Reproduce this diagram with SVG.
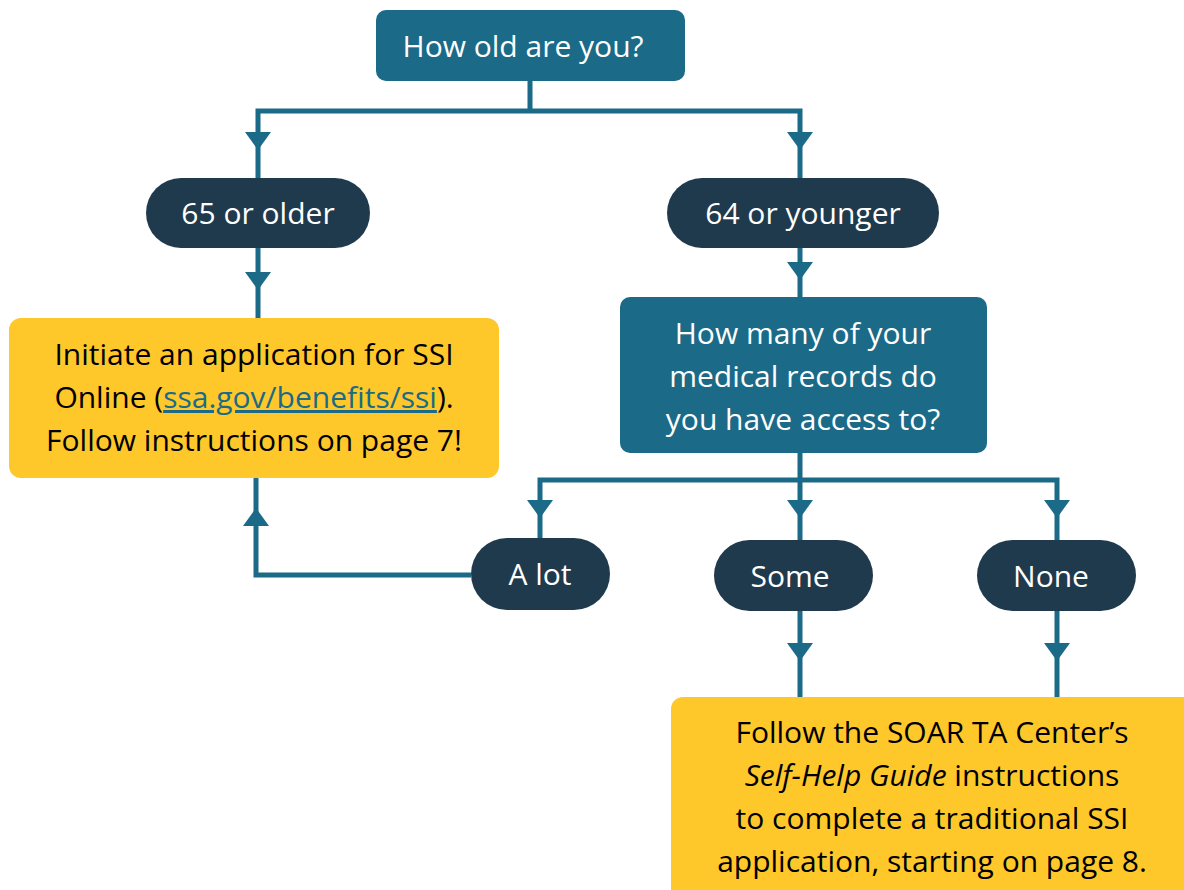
<svg xmlns="http://www.w3.org/2000/svg" width="1184" height="890" viewBox="0 0 1184 890">
<style>
.q{fill:#1b6a87}
.p{fill:#1f3a4d}
.y{fill:#fec72a}
.tw{font-family:"Open Sans","Noto Sans",sans-serif;font-size:30px;fill:#ffffff;text-anchor:middle}
.tb{font-family:"Open Sans","Noto Sans",sans-serif;font-size:30px;fill:#000000;text-anchor:middle}
.ln{fill:none;stroke:#1b6a87;stroke-width:5}
.ah{fill:#1b6a87}
.lk{fill:#1b6a87;text-decoration:underline}
</style>
<defs>
<path id="ah" d="M-13,0 L13,0 L0,18 Z"/>
</defs>
<g id="connectors">
<path class="ln" d="M530,81 V111 M258,111 H800 M258,108.5 V178 M800,108.5 V178"/>
<path class="ln" d="M258,248 V318"/>
<path class="ln" d="M800,248 V297"/>
<path class="ln" d="M800,453 V480 M540,480 H1057 M540,477.5 V538 M800,477.5 V540 M1057,477.5 V540"/>
<path class="ln" d="M471,575 H256 V478"/>
<path class="ln" d="M800,611 V697 M1057,611 V697"/>
<use href="#ah" class="ah" x="258" y="132"/>
<use href="#ah" class="ah" x="800" y="132"/>
<use href="#ah" class="ah" x="258" y="272"/>
<use href="#ah" class="ah" x="800" y="262"/>
<use href="#ah" class="ah" x="540" y="500"/>
<use href="#ah" class="ah" x="800" y="500"/>
<use href="#ah" class="ah" x="1057" y="500"/>
<use href="#ah" class="ah" x="800" y="643"/>
<use href="#ah" class="ah" x="1057" y="643"/>
<path class="ah" d="M243,526 L269,526 L256,508 Z"/>
</g>
<g id="n-age">
<rect class="q" x="376" y="10" width="309" height="71" rx="10"/>
<text class="tw" x="523" y="57">How old are you?</text>
</g>
<g id="n-65">
<rect class="p" x="146" y="178" width="224" height="70" rx="35"/>
<text class="tw" x="258" y="224">65 or older</text>
</g>
<g id="n-64">
<rect class="p" x="667" y="178" width="272" height="70" rx="35"/>
<text class="tw" x="803" y="224">64 or younger</text>
</g>
<g id="n-online">
<rect class="y" x="9" y="318" width="490" height="160" rx="12"/>
<text class="tb" x="254" y="365">Initiate an application for SSI</text>
<text class="tb" x="254" y="408">Online (<tspan class="lk">ssa.gov/benefits/ssi</tspan>).</text>
<text class="tb" x="254" y="451">Follow instructions on page 7!</text>
</g>
<g id="n-records">
<rect class="q" x="620" y="297" width="367" height="156" rx="10"/>
<text class="tw" x="803" y="344">How many of your</text>
<text class="tw" x="803" y="387">medical records do</text>
<text class="tw" x="803" y="430">you have access to?</text>
</g>
<g id="n-alot">
<rect class="p" x="471" y="538" width="139" height="72" rx="36"/>
<text class="tw" x="540" y="585">A lot</text>
</g>
<g id="n-some">
<rect class="p" x="714" y="540" width="159" height="71" rx="35.5"/>
<text class="tw" x="790" y="587">Some</text>
</g>
<g id="n-none">
<rect class="p" x="977" y="540" width="159" height="71" rx="35.5"/>
<text class="tw" x="1051" y="587">None</text>
</g>
<g id="n-guide">
<rect class="y" x="671" y="697" width="530" height="210" rx="12"/>
<text class="tb" x="932" y="743">Follow the SOAR TA Center’s</text>
<text class="tb" x="932" y="786"><tspan font-style="italic">Self-Help Guide</tspan> instructions</text>
<text class="tb" x="932" y="829">to complete a traditional SSI</text>
<text class="tb" x="932" y="872">application, starting on page 8.</text>
</g>
</svg>
